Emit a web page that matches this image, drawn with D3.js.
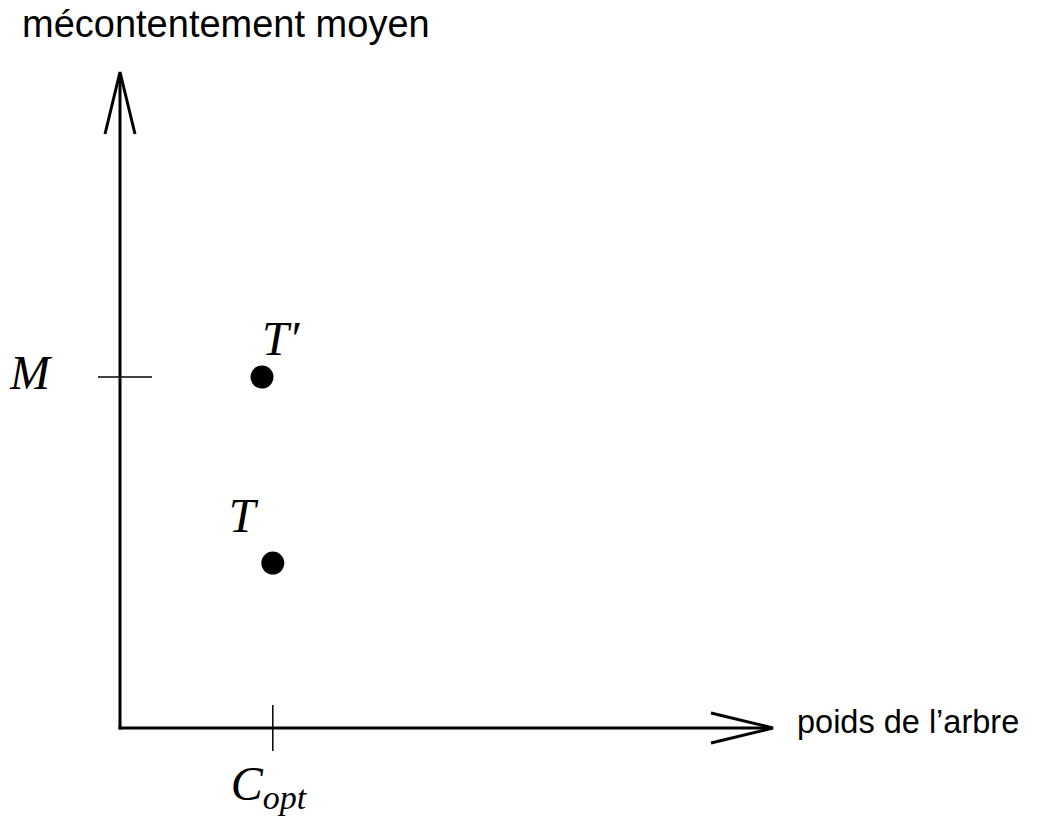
<!DOCTYPE html>
<html>
<head>
<meta charset="utf-8">
<script src="https://cdn.jsdelivr.net/npm/d3@7"></script>
<style>
  body { margin: 0; background: #fff; }
  svg { display: block; }
  .sans { font-family: "Liberation Sans", Arial, sans-serif; }
  .math { font-family: "Liberation Serif", "Times New Roman", serif; font-style: italic; }
</style>
</head>
<body>
<svg width="1064" height="819"></svg>
<script>
const svgWidth = 1064;
const svgHeight = 819;

// points in the (cost, dissatisfaction) plane, normalised 0..1
const pointNames = ["T'", "T"];
const pointX = [0.2175, 0.234];
const pointY = [0.535, 0.2515];

// marked values on the axes
const yTickLabels = ["M"];
const yTickValues = [0.535];
const xTickLabels = ["C"];
const xTickSubs = ["opt"];
const xTickValues = [0.234];

const axisLabelX = "poids de l’arbre";
const axisLabelY = "mécontentement moyen";

const xScale = d3.scaleLinear()
    .domain([0, 1])
    .range([120, 773]);

const yScale = d3.scaleLinear()
    .domain([0, 1])
    .range([728, 72]);

const svg = d3.select("svg");

// open arrow heads
function arrowHead(tip, dir) {
    // dir: unit vector pointing along the axis
    const len = 62, half = 15;
    const bx = tip[0] - dir[0] * len, by = tip[1] - dir[1] * len;
    const nx = -dir[1], ny = dir[0];
    return "M" + (bx + nx * half) + "," + (by + ny * half) +
           "L" + tip[0] + "," + tip[1] +
           "L" + (bx - nx * half) + "," + (by - ny * half);
}

// y axis
svg.append("line")
    .attr("x1", xScale(0)).attr("y1", yScale(0) + 1.5)
    .attr("x2", xScale(0)).attr("y2", yScale(1) + 2)
    .attr("stroke", "black").attr("stroke-width", 3);
svg.append("path")
    .attr("d", arrowHead([xScale(0), yScale(1)], [0, -1]))
    .attr("fill", "none").attr("stroke", "black").attr("stroke-width", 3)
    .attr("stroke-linejoin", "miter");

// x axis
svg.append("line")
    .attr("x1", xScale(0) - 1.5).attr("y1", yScale(0))
    .attr("x2", xScale(1) - 2).attr("y2", yScale(0))
    .attr("stroke", "black").attr("stroke-width", 3);
svg.append("path")
    .attr("d", arrowHead([xScale(1), yScale(0)], [1, 0]))
    .attr("fill", "none").attr("stroke", "black").attr("stroke-width", 3)
    .attr("stroke-linejoin", "miter");

// y tick marks
svg.selectAll(".ytick")
    .data(yTickValues)
    .enter().append("line")
    .attr("class", "ytick")
    .attr("x1", xScale(0) - 22).attr("x2", xScale(0) + 32)
    .attr("y1", d => yScale(d)).attr("y2", d => yScale(d))
    .attr("stroke", "black").attr("stroke-width", 1.5);

svg.selectAll(".ytickLabel")
    .data(yTickValues)
    .enter().append("text")
    .attr("class", "math ytickLabel")
    .attr("x", 10)
    .attr("y", d => yScale(d) + 12)
    .attr("font-size", 48)
    .text((d, i) => yTickLabels[i]);

// x tick marks
svg.selectAll(".xtick")
    .data(xTickValues)
    .enter().append("line")
    .attr("class", "xtick")
    .attr("x1", d => xScale(d)).attr("x2", d => xScale(d))
    .attr("y1", yScale(0) - 23).attr("y2", yScale(0) + 23)
    .attr("stroke", "black").attr("stroke-width", 1.5);

const xLab = svg.selectAll(".xtickLabel")
    .data(xTickValues)
    .enter().append("text")
    .attr("class", "math xtickLabel")
    .attr("x", d => xScale(d) - 42)
    .attr("y", yScale(0) + 72)
    .attr("font-size", 48);
xLab.append("tspan").text((d, i) => xTickLabels[i]);
xLab.append("tspan")
    .attr("font-size", 34)
    .attr("dy", 9)
    .text((d, i) => xTickSubs[i]);

// points
svg.selectAll(".pt")
    .data(pointX)
    .enter().append("circle")
    .attr("class", "pt")
    .attr("cx", (d, i) => xScale(d))
    .attr("cy", (d, i) => yScale(pointY[i]))
    .attr("r", 11.5)
    .attr("fill", "black");

// point labels: T' sits above-right, T above-left
const labelDx = [0, -44];
const labelDy = [-22, -31];
svg.selectAll(".ptLabel")
    .data(pointX)
    .enter().append("text")
    .attr("class", "math ptLabel")
    .attr("x", (d, i) => xScale(d) + labelDx[i])
    .attr("y", (d, i) => yScale(pointY[i]) + labelDy[i])
    .attr("font-size", 48)
    .text((d, i) => pointNames[i].replace("'", "′"));

// axis titles
svg.append("text")
    .attr("class", "sans")
    .attr("x", 797)
    .attr("y", yScale(0) + 5)
    .attr("font-size", 32.5)
    .text(axisLabelX);

svg.append("text")
    .attr("class", "sans")
    .attr("x", 22)
    .attr("y", 37)
    .attr("font-size", 38)
    .text(axisLabelY);
</script>
</body>
</html>
